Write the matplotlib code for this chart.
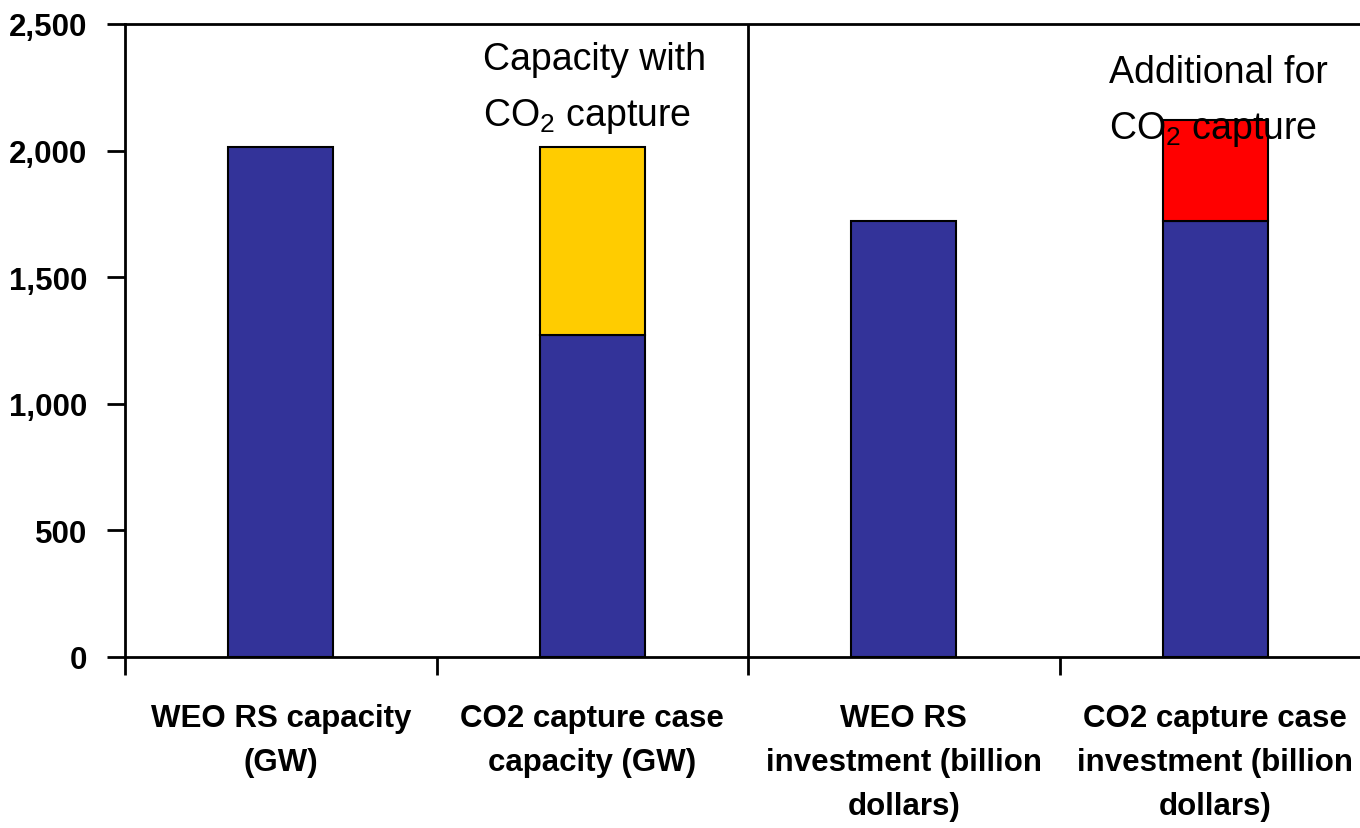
import matplotlib
matplotlib.use("Agg")
import matplotlib.pyplot as plt
import numpy as np

# data
categories = ["WEO RS capacity\n(GW)",
              "CO2 capture case\ncapacity (GW)",
              "WEO RS\ninvestment (billion\ndollars)",
              "CO2 capture case\ninvestment (billion\ndollars)"]
base_values = [2015, 1270, 1720, 1720]
capture_capacity = [0, 745, 0, 0]
capture_additional = [0, 0, 0, 400]
yticks = [0, 500, 1000, 1500, 2000, 2500]

BLUE = "#333399"
YELLOW = "#FFCC00"
RED = "#FF0000"

plt.rcParams["mathtext.fontset"] = "custom"
plt.rcParams["mathtext.rm"] = "Liberation Sans"
plt.rcParams["mathtext.default"] = "regular"

bold_font = ["Liberation Sans", "DejaVu Sans"]
text_font = ["Liberation Sans", "DejaVu Sans"]

fig = plt.figure(figsize=(13.6, 8.29), dpi=100)
ax = fig.add_axes([125 / 1360, 1 - 658 / 829, 1246 / 1360, 633 / 829])

x = np.arange(len(categories))
width = 0.337
ax.bar(x, base_values, width, color=BLUE, edgecolor="black", linewidth=1.5)
ax.bar(x, capture_capacity, width, bottom=base_values, color=YELLOW,
       edgecolor="black", linewidth=1.5)
bottoms = np.array(base_values) + np.array(capture_capacity)
ax.bar(x, capture_additional, width, bottom=bottoms, color=RED,
       edgecolor="black", linewidth=1.5)
# hide zero-height segments
for p in ax.patches:
    if p.get_height() == 0:
        p.set_visible(False)

ax.set_xlim(-0.5, len(categories) - 0.5)
ax.set_ylim(0, 2500)
ax.axvline(1.5, color="black", linewidth=2)

for side in ["top", "left", "bottom"]:
    ax.spines[side].set_linewidth(2)
ax.spines["right"].set_visible(False)

ax.set_yticks(yticks)
ax.set_yticklabels([f"{v:,}" for v in yticks], fontfamily=bold_font,
                   fontweight="bold", fontsize=22.5)
ax.tick_params(axis="y", direction="out", length=13, width=2, pad=14)

ax.set_xticks(np.arange(len(categories) + 1) - 0.5)
ax.set_xticklabels([])
ax.tick_params(axis="x", which="major", direction="out", length=13, width=2)
ax.set_xticks(x, minor=True)
ax.set_xticklabels(categories, minor=True, fontfamily=bold_font,
                   fontweight="bold", fontsize=22.5, linespacing=1.62)
ax.tick_params(axis="x", which="minor", length=0, pad=33)

ax.text(1 - 0.35, 2100, "Capacity with\nCO$_2$ capture", fontfamily=text_font,
        fontsize=27, va="baseline", ha="left", linespacing=1.65)
ax.text(3 - 0.34, 2050, "Additional for\nCO$_2$ capture", fontfamily=text_font,
        fontsize=27, va="baseline", ha="left", linespacing=1.65)

fig.savefig("out.png", dpi=100)
